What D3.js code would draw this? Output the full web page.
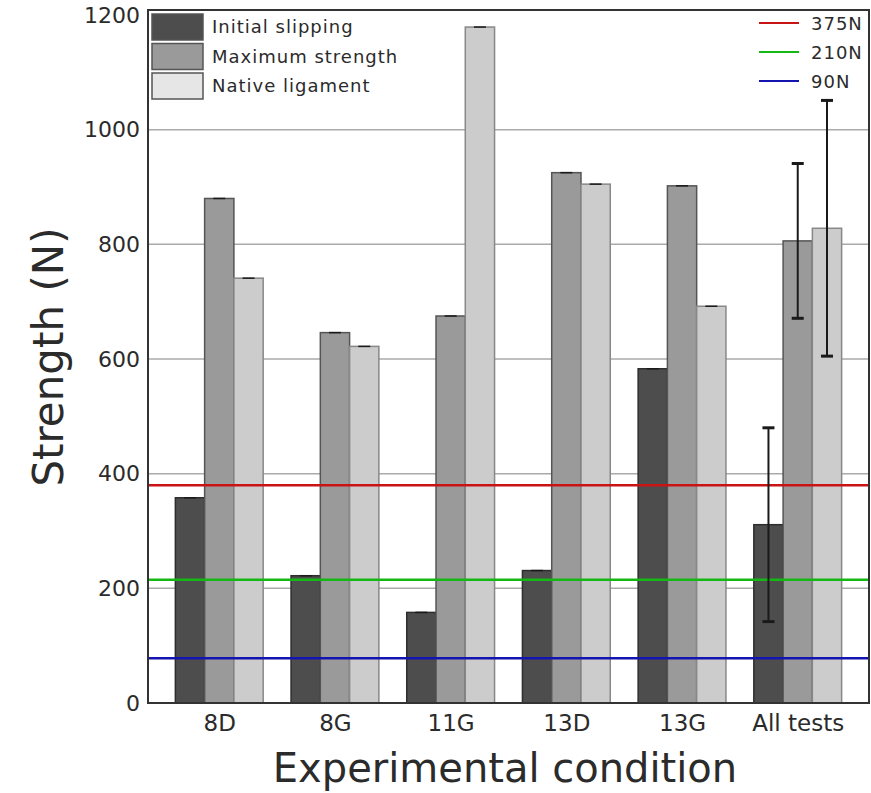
<!DOCTYPE html>
<html>
<head>
<meta charset="utf-8">
<script src="https://cdn.jsdelivr.net/npm/d3@7"></script>
<style>
  body { margin: 0; background: #fff; }
  text { font-family: 'DejaVu Sans', sans-serif; fill: #2b2b2b; }
</style>
</head>
<body>
<div id="chart"></div>
<script>
let svgWidth = 871;
let svgHeight = 793;

let margin = { top: 10, right: 2, bottom: 90, left: 148 };
let width = svgWidth - margin.left - margin.right;
let height = 703 - margin.top;

// data
let conditions = ['8D', '8G', '11G', '13D', '13G', 'All tests'];
let seriesNames = ['Initial slipping', 'Maximum strength', 'Native ligament'];
let initialSlipping = [358, 222, 158, 231, 583, 311];
let maximumStrength = [880, 646, 675, 925, 902, 806];
let nativeLigament = [741, 622, 1179, 905, 692, 828];
let initialErr = [0, 0, 0, 0, 0, 169];
let maximumErr = [0, 0, 0, 0, 0, 135];
let nativeErr = [0, 0, 0, 0, 0, 223];
let refLabels = ['375N', '210N', '90N'];
let refValues = [380, 215, 78];
let yTicks = [0, 200, 400, 600, 800, 1000, 1200];

let barFill = ['#4d4d4d', '#9a9a9a', '#cccccc'];
let barStroke = ['#2e2e2e', '#555', '#888'];
let legendFill = ['#4d4d4d', '#9a9a9a', '#e6e6e6'];
let refColors = ['#c81414', '#14b814', '#1414b0'];

let svg = d3.select('#chart')
  .append('svg')
  .attr('width', svgWidth)
  .attr('height', svgHeight);

let chartGroup = svg.append('g')
  .attr('transform', `translate(${margin.left}, ${margin.top})`);

let xScale = d3.scalePoint()
  .domain(conditions)
  .range([0, width])
  .padding(0.616);

let barW = xScale.step() * 0.253;

let yScale = d3.scaleLinear()
  .domain([0, 1200])
  .range([height, 5]);

// gridlines
chartGroup.selectAll('.grid')
  .data(yTicks.slice(1, -1))
  .enter()
  .append('line')
  .attr('x1', 0)
  .attr('x2', width)
  .attr('y1', d => yScale(d))
  .attr('y2', d => yScale(d))
  .attr('stroke', '#aaa')
  .attr('stroke-width', 1.5);

let series = [initialSlipping, maximumStrength, nativeLigament];
let errors = [initialErr, maximumErr, nativeErr];

series.forEach(function(vals, i) {
  chartGroup.selectAll('.bar' + i)
    .data(vals)
    .enter()
    .append('rect')
    .attr('x', (d, j) => xScale(conditions[j]) + (i - 1.5) * barW)
    .attr('y', d => yScale(d))
    .attr('width', barW)
    .attr('height', d => height - yScale(d))
    .attr('fill', barFill[i])
    .attr('stroke', barStroke[i])
    .attr('stroke-width', 1.5);
});

// reference lines
chartGroup.selectAll('.ref')
  .data(refValues)
  .enter()
  .append('line')
  .attr('x1', 0)
  .attr('x2', width)
  .attr('y1', d => yScale(d))
  .attr('y2', d => yScale(d))
  .attr('stroke', (d, i) => refColors[i])
  .attr('stroke-width', 2.5);

// error bars
series.forEach(function(vals, i) {
  vals.forEach(function(v, j) {
    let cx = xScale(conditions[j]) + (i - 1) * barW;
    let e = errors[i][j];
    let g = chartGroup.append('g').attr('stroke', '#1a1a1a');
    if (e > 0) {
      g.append('line')
        .attr('x1', cx).attr('x2', cx)
        .attr('y1', yScale(v + e)).attr('y2', yScale(v - e))
        .attr('stroke-width', 2);
      [v + e, v - e].forEach(function(w) {
        g.append('line')
          .attr('x1', cx - 6).attr('x2', cx + 6)
          .attr('y1', yScale(w)).attr('y2', yScale(w))
          .attr('stroke-width', 3);
      });
    } else {
      g.append('line')
        .attr('x1', cx - 6).attr('x2', cx + 6)
        .attr('y1', yScale(v)).attr('y2', yScale(v))
        .attr('stroke-width', 1.5);
    }
  });
});

// frame
chartGroup.append('rect')
  .attr('width', width)
  .attr('height', height)
  .attr('fill', 'none')
  .attr('stroke', '#333')
  .attr('stroke-width', 2);

// y axis labels
let leftAxis = d3.axisLeft(yScale)
  .tickValues(yTicks)
  .tickFormat(d3.format('d'))
  .tickSize(0)
  .tickPadding(8);

chartGroup.append('g')
  .call(leftAxis)
  .call(g => g.select('.domain').remove())
  .selectAll('text')
  .attr('font-size', 22)
  .attr('font-family', 'DejaVu Sans')
  .attr('fill', '#333');

// x axis labels
let bottomAxis = d3.axisBottom(xScale)
  .tickSize(0)
  .tickPadding(12);

chartGroup.append('g')
  .attr('transform', `translate(0, ${height})`)
  .call(bottomAxis)
  .call(g => g.select('.domain').remove())
  .selectAll('text')
  .attr('font-size', 23)
  .attr('font-family', 'DejaVu Sans')
  .attr('fill', '#333');

// axis titles
svg.append('text')
  .attr('transform', 'rotate(-90)')
  .attr('x', -357)
  .attr('y', 63)
  .attr('text-anchor', 'middle')
  .attr('font-size', 42)
  .text('Strength (N)');

svg.append('text')
  .attr('x', 505)
  .attr('y', 782)
  .attr('text-anchor', 'middle')
  .attr('font-size', 40)
  .text('Experimental condition');

// legend for bars
let legendLeft = svg.append('g');
seriesNames.forEach(function(name, i) {
  legendLeft.append('rect')
    .attr('x', 152)
    .attr('y', 14 + i * 29.5)
    .attr('width', 51)
    .attr('height', 26)
    .attr('fill', legendFill[i])
    .attr('stroke', '#555')
    .attr('stroke-width', 1.5);
  legendLeft.append('text')
    .attr('x', 212)
    .attr('y', 33 + i * 29.5)
    .attr('font-size', 18)
    .attr('letter-spacing', 1)
    .text(name);
});

// legend for reference lines
let legendRight = svg.append('g');
refLabels.forEach(function(name, i) {
  legendRight.append('line')
    .attr('x1', 759)
    .attr('x2', 799)
    .attr('y1', 23 + i * 29)
    .attr('y2', 23 + i * 29)
    .attr('stroke', refColors[i])
    .attr('stroke-width', 2);
  legendRight.append('text')
    .attr('x', 811)
    .attr('y', 29.5 + i * 29)
    .attr('font-size', 18)
    .attr('letter-spacing', 1)
    .text(name);
});
</script>
</body>
</html>
